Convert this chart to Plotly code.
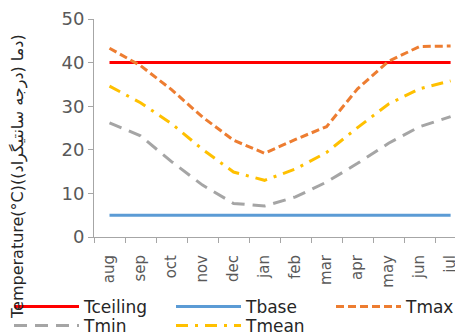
import plotly.graph_objects as go

months = ["aug", "sep", "oct", "nov", "dec", "jan", "feb", "mar", "apr", "may", "jun", "jul"]
t_ceiling = [40] * 12
t_base = [5] * 12
t_max = [43.3, 39.3, 33.8, 27.5, 22.2, 19.2, 22.4, 25.3, 34.0, 40.3, 43.7, 43.8]
t_min = [26.2, 23.2, 17.3, 11.9, 7.7, 7.1, 9.2, 12.6, 16.9, 21.5, 25.3, 27.6]
t_mean = [34.6, 30.8, 26.0, 20.1, 14.9, 13.0, 15.6, 19.4, 25.1, 30.5, 34.0, 35.8]
y_ticks = [0, 10, 20, 30, 40, 50]

FONT = "DejaVu Sans"
TXT = "#595959"
AX = "#A6A6A6"
# page body has an 8px margin, so the figure is 8px smaller than the window
W, H = 455, 327

fig = go.Figure()
series = [
    ("Tceiling", t_ceiling, "#FF0000", "solid", "legend"),
    ("Tbase", t_base, "#5B9BD5", "solid", "legend2"),
    ("Tmax", t_max, "#ED7D31", "8px,4px", "legend3"),
    ("Tmin", t_min, "#A5A5A5", "13px,8px", "legend4"),
    ("Tmean", t_mean, "#FFC000", "12px,7px,3px,7px", "legend5"),
]
for name, vals, color, dash, lg in series:
    fig.add_trace(go.Scatter(x=months, y=vals, name=name, mode="lines", legend=lg,
                             line=dict(color=color, width=3, dash=dash)))

def leg(px_x, px_top):
    return dict(orientation="v", xref="container", yref="container",
                x=px_x / W, y=(H - px_top) / H, xanchor="left", yanchor="top",
                itemwidth=65, font=dict(size=17, color="#262626", family=FONT),
                tracegroupgap=0, bgcolor="rgba(0,0,0,0)")

fig.update_layout(
    width=W, height=H,
    margin=dict(l=86, r=0, t=11, b=98, autoexpand=False),
    paper_bgcolor="white", plot_bgcolor="white",
    font=dict(family=FONT, color=TXT),
    showlegend=True,
    legend=leg(1, 281), legend2=leg(163, 281), legend3=leg(323, 281),
    legend4=leg(1, 300), legend5=leg(163, 300),
    xaxis=dict(type="category", categoryorder="array", categoryarray=months,
               range=[-0.5, 11.4], showgrid=False, showline=True, linecolor=AX, linewidth=1,
               ticks="outside", tickson="boundaries", ticklen=5, tickcolor=AX,
               tickangle=-90, tickfont=dict(size=15, color=TXT, family=FONT),
               zeroline=False, automargin=False, ticklabelstandoff=11),
    yaxis=dict(range=[0, 50], tickvals=y_ticks, showgrid=False, showline=True,
               linecolor=AX, linewidth=1, ticks="outside", ticklen=5, tickcolor=AX,
               tickfont=dict(size=18, color=TXT, family=FONT), zeroline=False,
               ticksuffix="\u00a0\u00a0", automargin=False),
    annotations=[dict(text="Temperature(°C)(دما (درجه سانتیگراد))", textangle=-90,
                      xref="paper", yref="paper", x=-0.206, y=-0.383,
                      xanchor="center", yanchor="bottom", showarrow=False,
                      font=dict(size=16, color="#262626", family=FONT))],
)

fig.write_html("out.html")
